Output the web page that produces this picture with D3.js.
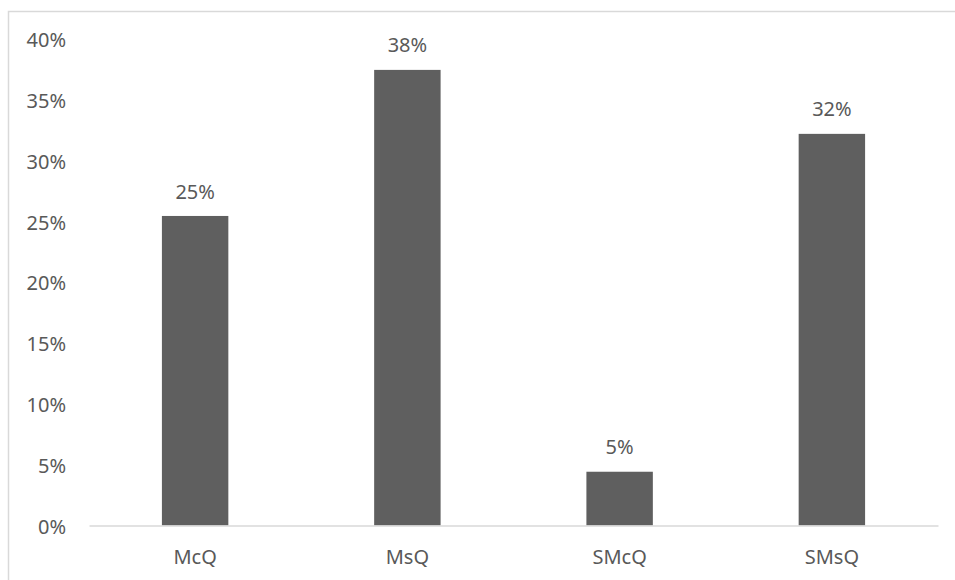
<!DOCTYPE html>
<html>
<head>
    <meta charset="utf-8">
    <style>
        body { margin: 0; background: white; }
        svg { display: block; font-family: 'Noto Sans', 'Open Sans', sans-serif; }
        .axis text { fill: #595959; font-size: 20px; font-family: 'Noto Sans', 'Open Sans', sans-serif; }
    </style>
</head>
<body>
<svg id="chart" width="955" height="580"></svg>

<script src="https://d3js.org/d3.v7.min.js"></script>
<script>
    // data
    let categories = ["McQ", "MsQ", "SMcQ", "SMsQ"]
    let shares = [0.2545, 0.3746, 0.0442, 0.322]
    let barLabels = ["25%", "38%", "5%", "32%"]
    let yTicks = [0, 0.05, 0.10, 0.15, 0.20, 0.25, 0.30, 0.35, 0.40]

    let width = 955
    let height = 580
    let svg = d3.select("#chart")

    // chart frame (runs off the right and bottom edge)
    svg.append("rect")
        .attr("x", 8.5)
        .attr("y", 11.5)
        .attr("width", 1000)
        .attr("height", 1000)
        .attr("fill", "none")
        .attr("stroke", "#d9d9d9")
        .attr("stroke-width", 1.5)

    let x = d3.scaleBand()
        .domain(categories)
        .range([89, 938])
        .paddingInner(0.687)
        .paddingOuter(0.687 / 2)

    let y = d3.scaleLinear()
        .domain([0, 0.4])
        .range([525.5, 39])

    // y axis labels only
    let yAxis = svg.append("g")
        .attr("class", "axis")
        .attr("transform", "translate(66,0)")
        .call(d3.axisLeft(y).tickValues(yTicks).tickFormat(d3.format(".0%")).tickSize(0).tickPadding(0))
    yAxis.select(".domain").remove()
    yAxis.selectAll("text").attr("dy", "0.38em")

    // bars
    svg.append("g")
        .selectAll("rect")
        .data(shares)
        .join("rect")
        .attr("x", (d, i) => x(categories[i]))
        .attr("y", d => y(d))
        .attr("width", x.bandwidth())
        .attr("height", d => y(0) - y(d))
        .attr("fill", "#5f5f5f")

    // value labels
    svg.append("g")
        .attr("class", "axis")
        .selectAll("text")
        .data(shares)
        .join("text")
        .attr("x", (d, i) => x(categories[i]) + x.bandwidth() / 2)
        .attr("y", d => y(d) - 25)
        .attr("dy", "0.38em")
        .attr("text-anchor", "middle")
        .text((d, i) => barLabels[i])

    // x axis
    let xAxis = svg.append("g")
        .attr("class", "axis")
        .attr("transform", "translate(0," + y(0) + ")")
        .call(d3.axisBottom(x).tickSize(0).tickPadding(0))
    xAxis.select(".domain")
        .attr("stroke", "#d9d9d9")
        .attr("stroke-width", 1.5)
    xAxis.selectAll("text").attr("y", 31).attr("dy", "0.38em")
</script>
</body>
</html>
